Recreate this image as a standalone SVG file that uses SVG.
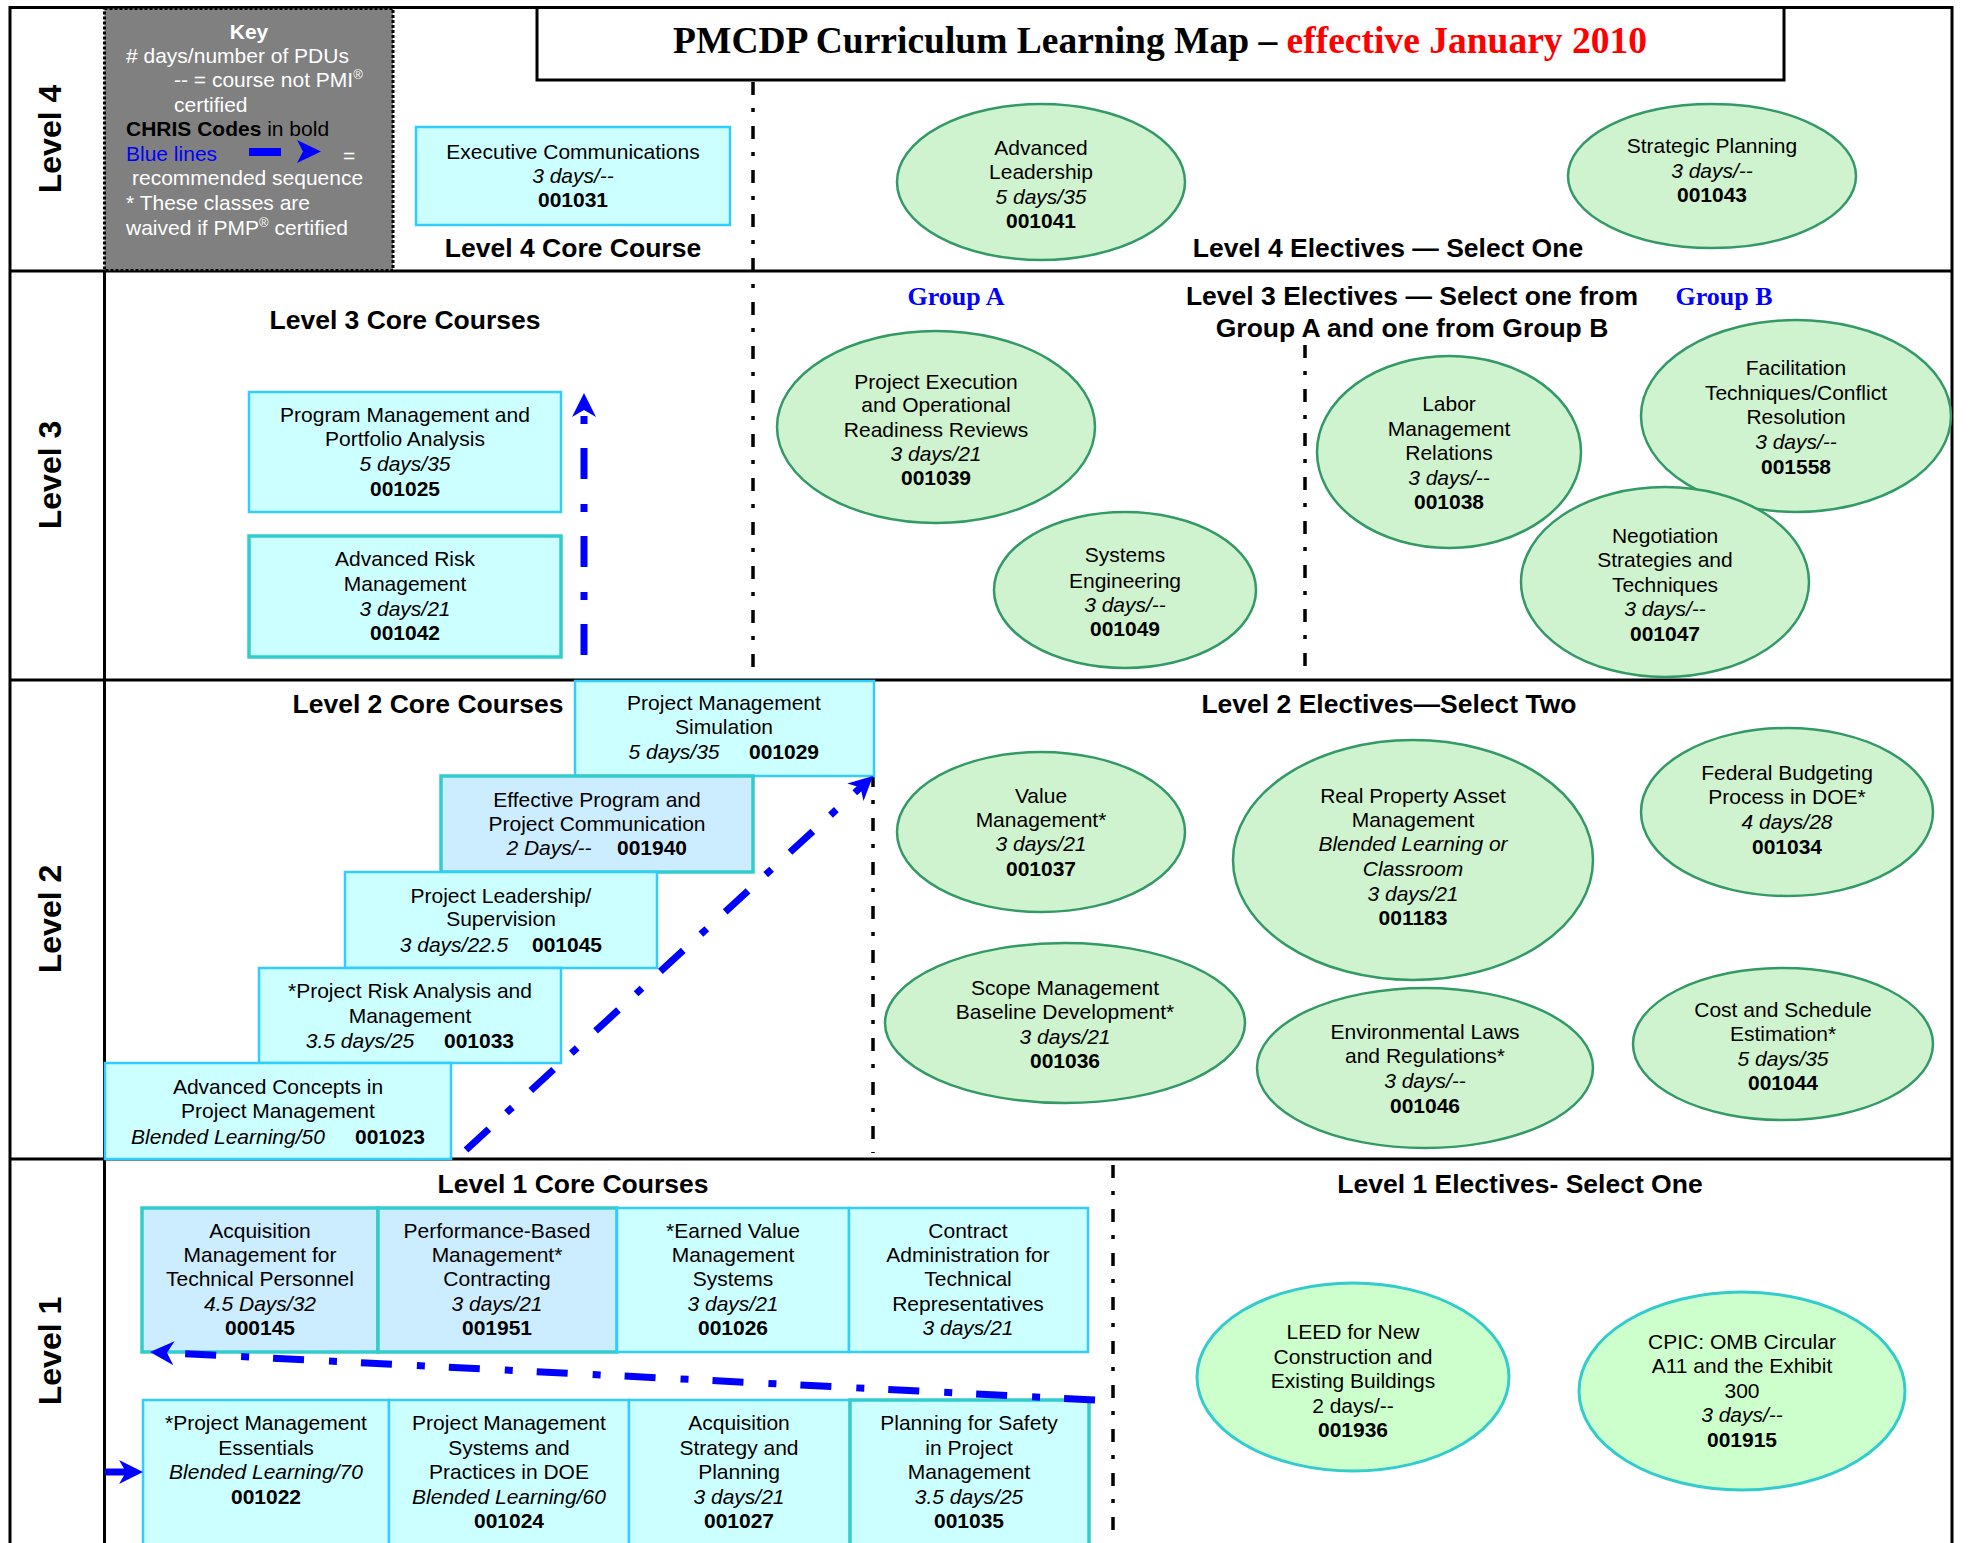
<svg xmlns="http://www.w3.org/2000/svg" width="1975" height="1543" viewBox="0 0 1975 1543">
<style>
.t{font-family:"Liberation Sans",Arial,sans-serif;font-size:21px;text-anchor:middle;fill:#000}
.i{font-style:italic}
.b{font-weight:bold}
.h{font-family:"Liberation Sans",Arial,sans-serif;font-size:26.5px;font-weight:bold;text-anchor:middle;fill:#000}
.lvl{font-family:"Liberation Sans",Arial,sans-serif;font-size:32px;font-weight:bold;text-anchor:middle;fill:#000}
.grp{font-family:"Liberation Serif","Times New Roman",serif;font-size:26px;font-weight:bold;text-anchor:middle;fill:#0000FF}
.k{font-family:"Liberation Sans",Arial,sans-serif;font-size:21px;fill:#FFFFFF}
.kb{fill:#0000FF}
.kk{fill:#000000}
.box{fill:#CCFFFF;stroke:#33CCFF;stroke-width:2.5}
.box2{fill:#CCECFF;stroke:#33CCCC;stroke-width:3.5}
.box3{fill:#CCFFFF;stroke:#33CCCC;stroke-width:3.5}
.ell{fill:#CFF3CF;stroke:#339966;stroke-width:2.5}
.ell1{fill:#CCFFCC;stroke:#33CCCC;stroke-width:3}
.frame{fill:none;stroke:#000;stroke-width:3}
.sep{fill:none;stroke:#000;stroke-width:3.5;stroke-dasharray:13 13 4 14}
.seq{fill:none;stroke:#0000FF;stroke-width:7;stroke-dasharray:31 24 8 25}
</style>
<defs>
<marker id="ah" markerUnits="userSpaceOnUse" markerWidth="26" markerHeight="26" viewBox="0 0 26 26" refX="12" refY="13" orient="auto">
<path d="M0,1 L24,13 L0,25 L7,13 z" fill="#0000FF"/>
</marker>
</defs>
<rect width="1975" height="1543" fill="#FFFFFF"/>

<g id="frame">
<rect class="frame" x="10" y="7.5" width="1942" height="1545"/>
<line class="frame" x1="104.5" y1="271" x2="104.5" y2="1543"/>
<line class="frame" x1="10" y1="271" x2="1952" y2="271"/>
<line class="frame" x1="10" y1="680" x2="1952" y2="680"/>
<line class="frame" x1="10" y1="1159" x2="1952" y2="1159"/>
<text class="lvl" transform="translate(61,139) rotate(-90)">Level 4</text>
<text class="lvl" transform="translate(61,475) rotate(-90)">Level 3</text>
<text class="lvl" transform="translate(61,919) rotate(-90)">Level 2</text>
<text class="lvl" transform="translate(61,1351) rotate(-90)">Level 1</text>
</g>

<g id="key">
<rect x="104.5" y="8.5" width="288.5" height="262" fill="#808080" stroke="#000" stroke-width="3" stroke-dasharray="3 2"/>
<text class="k b" x="249" y="39" text-anchor="middle">Key</text>
<text class="k" x="126" y="63"># days/number of PDUs</text>
<text class="k" x="174" y="87">-- = course not PMI<tspan font-size="13" dy="-8">®</tspan></text>
<text class="k" x="174" y="112">certified</text>
<text class="k" x="126" y="136"><tspan class="kk b">CHRIS Codes</tspan><tspan class="kk"> in bold</tspan></text>
<text class="k" x="126" y="161"><tspan class="kb">Blue lines</tspan></text>
<rect x="249" y="148" width="32" height="8" fill="#0000FF"/>
<path d="M297,140 L321,151.5 L297,163 L303,151.5 z" fill="#0000FF"/>
<text class="k" x="343" y="163">=</text>
<text class="k" x="132" y="185">recommended sequence</text>
<text class="k" x="126" y="210">* These classes are</text>
<text class="k" x="126" y="235">waived if PMP<tspan font-size="13" dy="-8">®</tspan><tspan dy="8"> certified</tspan></text>
</g>

<g id="title">
<rect x="537" y="7.5" width="1247" height="72.5" fill="#FFFFFF" stroke="#000" stroke-width="3"/>
<text x="1160" y="53" font-family="'Liberation Serif','Times New Roman',serif" font-size="37.5" font-weight="bold" text-anchor="middle" fill="#000">PMCDP Curriculum Learning Map – <tspan fill="#FF0000">effective January 2010</tspan></text>
</g>

<g id="connectors">
<line class="sep" x1="753" y1="82" x2="753" y2="668"/>
<line class="sep" x1="1305" y1="345" x2="1305" y2="668"/>
<line class="sep" x1="873" y1="686" x2="873" y2="1153"/>
<line class="sep" x1="1113" y1="1165" x2="1113" y2="1543"/>
</g>

<g id="headings">
<text class="h" x="573" y="257">Level 4 Core Course</text>
<text class="h" x="1388" y="257">Level 4 Electives — Select One</text>
<text class="h" x="405" y="329">Level 3 Core Courses</text>
<text class="grp" x="956" y="305">Group A</text>
<text class="grp" x="1724" y="305">Group B</text>
<text class="h" x="1412" y="305">Level 3 Electives — Select one from</text>
<text class="h" x="1412" y="337">Group A and one from Group B</text>
<text class="h" x="428" y="713">Level 2 Core Courses</text>
<text class="h" x="1389" y="713">Level 2 Electives—Select Two</text>
<text class="h" x="573" y="1193">Level 1 Core Courses</text>
<text class="h" x="1520" y="1193">Level 1 Electives- Select One</text>
</g>

<!-- Level 4 -->
<g id="n001031">
<rect class="box" x="416" y="127" width="314" height="98" stroke-width="3.5"/>
<text class="t" x="573" y="159">Executive Communications</text>
<text class="t i" x="573" y="183">3 days/--</text>
<text class="t b" x="573" y="207">001031</text>
</g>
<g id="n001041">
<ellipse class="ell" cx="1041" cy="182" rx="144" ry="78"/>
<text class="t" x="1041" y="155">Advanced</text>
<text class="t" x="1041" y="179">Leadership</text>
<text class="t i" x="1041" y="204">5 days/35</text>
<text class="t b" x="1041" y="228">001041</text>
</g>
<g id="n001043">
<ellipse class="ell" cx="1712" cy="176" rx="144" ry="72"/>
<text class="t" x="1712" y="153">Strategic Planning</text>
<text class="t i" x="1712" y="178">3 days/--</text>
<text class="t b" x="1712" y="202">001043</text>
</g>

<!-- Level 3 -->
<g id="n001025">
<rect class="box" x="249" y="392" width="312" height="120"/>
<text class="t" x="405" y="422">Program Management and</text>
<text class="t" x="405" y="446">Portfolio Analysis</text>
<text class="t i" x="405" y="471">5 days/35</text>
<text class="t b" x="405" y="496">001025</text>
</g>
<g id="n001042">
<rect class="box3" x="249" y="536" width="312" height="121"/>
<text class="t" x="405" y="566">Advanced Risk</text>
<text class="t" x="405" y="591">Management</text>
<text class="t i" x="405" y="616">3 days/21</text>
<text class="t b" x="405" y="640">001042</text>
</g>
<g id="n001039">
<ellipse class="ell" cx="936" cy="427" rx="159" ry="96"/>
<text class="t" x="936" y="389">Project Execution</text>
<text class="t" x="936" y="412">and Operational</text>
<text class="t" x="936" y="437">Readiness Reviews</text>
<text class="t i" x="936" y="461">3 days/21</text>
<text class="t b" x="936" y="485">001039</text>
</g>
<g id="n001049">
<ellipse class="ell" cx="1125" cy="590" rx="131" ry="78"/>
<text class="t" x="1125" y="562">Systems</text>
<text class="t" x="1125" y="588">Engineering</text>
<text class="t i" x="1125" y="612">3 days/--</text>
<text class="t b" x="1125" y="636">001049</text>
</g>
<g id="n001038">
<ellipse class="ell" cx="1449" cy="452" rx="132" ry="96"/>
<text class="t" x="1449" y="411">Labor</text>
<text class="t" x="1449" y="436">Management</text>
<text class="t" x="1449" y="460">Relations</text>
<text class="t i" x="1449" y="485">3 days/--</text>
<text class="t b" x="1449" y="509">001038</text>
</g>
<g id="n001558">
<ellipse class="ell" cx="1796" cy="416" rx="155" ry="96"/>
<text class="t" x="1796" y="375">Facilitation</text>
<text class="t" x="1796" y="400">Techniques/Conflict</text>
<text class="t" x="1796" y="424">Resolution</text>
<text class="t i" x="1796" y="449">3 days/--</text>
<text class="t b" x="1796" y="474">001558</text>
</g>
<g id="n001047">
<ellipse class="ell" cx="1665" cy="582" rx="144" ry="95"/>
<text class="t" x="1665" y="543">Negotiation</text>
<text class="t" x="1665" y="567">Strategies and</text>
<text class="t" x="1665" y="592">Techniques</text>
<text class="t i" x="1665" y="616">3 days/--</text>
<text class="t b" x="1665" y="641">001047</text>
</g>

<!-- Level 2 -->
<g id="n001029">
<rect class="box" x="575" y="681" width="299" height="95"/>
<text class="t" x="724" y="710">Project Management</text>
<text class="t" x="724" y="734">Simulation</text>
<text class="t i" x="674" y="759">5 days/35</text>
<text class="t b" x="784" y="759">001029</text>
</g>
<g id="n001940">
<rect class="box2" x="441" y="776" width="312" height="96"/>
<text class="t" x="597" y="807">Effective Program and</text>
<text class="t" x="597" y="831">Project Communication</text>
<text class="t i" x="549" y="855">2 Days/--</text>
<text class="t b" x="652" y="855">001940</text>
</g>
<g id="n001045">
<rect class="box" x="345" y="872" width="312" height="96"/>
<text class="t" x="501" y="903">Project Leadership/</text>
<text class="t" x="501" y="926">Supervision</text>
<text class="t i" x="454" y="952">3 days/22.5</text>
<text class="t b" x="567" y="952">001045</text>
</g>
<g id="n001033">
<rect class="box" x="259" y="968" width="302" height="95"/>
<text class="t" x="410" y="998">*Project Risk Analysis and</text>
<text class="t" x="410" y="1023">Management</text>
<text class="t i" x="360" y="1048">3.5 days/25</text>
<text class="t b" x="479" y="1048">001033</text>
</g>
<g id="n001023">
<rect class="box" x="105" y="1063" width="346" height="96"/>
<text class="t" x="278" y="1094">Advanced Concepts in</text>
<text class="t" x="278" y="1118">Project Management</text>
<text class="t i" x="228" y="1144">Blended Learning/50</text>
<text class="t b" x="390" y="1144">001023</text>
</g>
<g id="n001037">
<ellipse class="ell" cx="1041" cy="832" rx="144" ry="80"/>
<text class="t" x="1041" y="803">Value</text>
<text class="t" x="1041" y="827">Management*</text>
<text class="t i" x="1041" y="851">3 days/21</text>
<text class="t b" x="1041" y="876">001037</text>
</g>
<g id="n001183">
<ellipse class="ell" cx="1413" cy="860" rx="180" ry="120"/>
<text class="t" x="1413" y="803">Real Property Asset</text>
<text class="t" x="1413" y="827">Management</text>
<text class="t i" x="1413" y="851">Blended Learning or</text>
<text class="t i" x="1413" y="876">Classroom</text>
<text class="t i" x="1413" y="901">3 days/21</text>
<text class="t b" x="1413" y="925">001183</text>
</g>
<g id="n001034">
<ellipse class="ell" cx="1787" cy="812" rx="146" ry="84"/>
<text class="t" x="1787" y="780">Federal Budgeting</text>
<text class="t" x="1787" y="804">Process in DOE*</text>
<text class="t i" x="1787" y="829">4 days/28</text>
<text class="t b" x="1787" y="854">001034</text>
</g>
<g id="n001036">
<ellipse class="ell" cx="1065" cy="1023" rx="180" ry="80"/>
<text class="t" x="1065" y="995">Scope Management</text>
<text class="t" x="1065" y="1019">Baseline Development*</text>
<text class="t i" x="1065" y="1044">3 days/21</text>
<text class="t b" x="1065" y="1068">001036</text>
</g>
<g id="n001046">
<ellipse class="ell" cx="1425" cy="1068" rx="168" ry="80"/>
<text class="t" x="1425" y="1039">Environmental Laws</text>
<text class="t" x="1425" y="1063">and Regulations*</text>
<text class="t i" x="1425" y="1088">3 days/--</text>
<text class="t b" x="1425" y="1113">001046</text>
</g>
<g id="n001044">
<ellipse class="ell" cx="1783" cy="1044" rx="150" ry="76"/>
<text class="t" x="1783" y="1017">Cost and Schedule</text>
<text class="t" x="1783" y="1041">Estimation*</text>
<text class="t i" x="1783" y="1066">5 days/35</text>
<text class="t b" x="1783" y="1090">001044</text>
</g>

<!-- Level 1 -->
<g id="n000145">
<rect class="box2" x="142" y="1208" width="236" height="144"/>
<text class="t" x="260" y="1238">Acquisition</text>
<text class="t" x="260" y="1262">Management for</text>
<text class="t" x="260" y="1286">Technical Personnel</text>
<text class="t i" x="260" y="1311">4.5 Days/32</text>
<text class="t b" x="260" y="1335">000145</text>
</g>
<g id="n001951">
<rect class="box2" x="378" y="1208" width="239" height="144"/>
<text class="t" x="497" y="1238">Performance-Based</text>
<text class="t" x="497" y="1262">Management*</text>
<text class="t" x="497" y="1286">Contracting</text>
<text class="t i" x="497" y="1311">3 days/21</text>
<text class="t b" x="497" y="1335">001951</text>
</g>
<g id="n001026">
<rect class="box" x="617" y="1208" width="232" height="144"/>
<text class="t" x="733" y="1238">*Earned Value</text>
<text class="t" x="733" y="1262">Management</text>
<text class="t" x="733" y="1286">Systems</text>
<text class="t i" x="733" y="1311">3 days/21</text>
<text class="t b" x="733" y="1335">001026</text>
</g>
<g id="nContract">
<rect class="box" x="849" y="1208" width="239" height="144"/>
<text class="t" x="968" y="1238">Contract</text>
<text class="t" x="968" y="1262">Administration for</text>
<text class="t" x="968" y="1286">Technical</text>
<text class="t" x="968" y="1311">Representatives</text>
<text class="t i" x="968" y="1335">3 days/21</text>
</g>
<g id="n001022">
<rect class="box" x="143" y="1400" width="246" height="150"/>
<text class="t" x="266" y="1430">*Project Management</text>
<text class="t" x="266" y="1455">Essentials</text>
<text class="t i" x="266" y="1479">Blended Learning/70</text>
<text class="t b" x="266" y="1504">001022</text>
</g>
<g id="n001024">
<rect class="box" x="389" y="1400" width="240" height="150"/>
<text class="t" x="509" y="1430">Project Management</text>
<text class="t" x="509" y="1455">Systems and</text>
<text class="t" x="509" y="1479">Practices in DOE</text>
<text class="t i" x="509" y="1504">Blended Learning/60</text>
<text class="t b" x="509" y="1528">001024</text>
</g>
<g id="n001027">
<rect class="box" x="629" y="1400" width="221" height="150"/>
<text class="t" x="739" y="1430">Acquisition</text>
<text class="t" x="739" y="1455">Strategy and</text>
<text class="t" x="739" y="1479">Planning</text>
<text class="t i" x="739" y="1504">3 days/21</text>
<text class="t b" x="739" y="1528">001027</text>
</g>
<g id="n001035">
<rect class="box3" x="850" y="1400" width="239" height="150" stroke-width="3"/>
<text class="t" x="969" y="1430">Planning for Safety</text>
<text class="t" x="969" y="1455">in Project</text>
<text class="t" x="969" y="1479">Management</text>
<text class="t i" x="969" y="1504">3.5 days/25</text>
<text class="t b" x="969" y="1528">001035</text>
</g>
<g id="n001936">
<ellipse class="ell1" cx="1353" cy="1377" rx="156" ry="94"/>
<text class="t" x="1353" y="1339">LEED for New</text>
<text class="t" x="1353" y="1364">Construction and</text>
<text class="t" x="1353" y="1388">Existing Buildings</text>
<text class="t" x="1353" y="1413">2 days/--</text>
<text class="t b" x="1353" y="1437">001936</text>
</g>
<g id="n001915">
<ellipse class="ell1" cx="1742" cy="1391" rx="163" ry="99"/>
<text class="t" x="1742" y="1349">CPIC: OMB Circular</text>
<text class="t" x="1742" y="1373">A11 and the Exhibit</text>
<text class="t" x="1742" y="1398">300</text>
<text class="t i" x="1742" y="1422">3 days/--</text>
<text class="t b" x="1742" y="1447">001915</text>
</g>

<g id="sequence">
<line class="seq" x1="584" y1="655" x2="584" y2="405" marker-end="url(#ah)"/>
<line class="seq" x1="466" y1="1150" x2="864.2" y2="784.1" marker-end="url(#ah)"/>
<line class="seq" x1="1095" y1="1400" x2="162" y2="1352.6" marker-end="url(#ah)"/>
<line x1="105" y1="1472" x2="131" y2="1472" stroke="#0000FF" stroke-width="7" marker-end="url(#ah)"/>
</g>
</svg>
